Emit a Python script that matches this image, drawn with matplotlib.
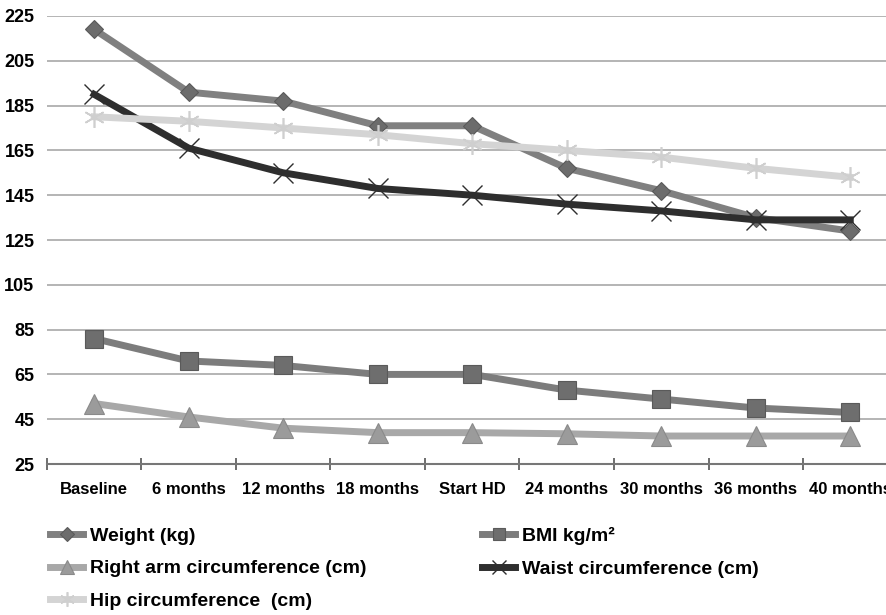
"""Anthropometric measures over follow-up, line chart with five series."""

import matplotlib
matplotlib.use("Agg")
import matplotlib.pyplot as plt
from matplotlib.ticker import FixedLocator

plt.rcParams["font.family"] = ["Liberation Sans", "DejaVu Sans"]
plt.rcParams["font.weight"] = "bold"

timepoints = ["Baseline", "6 months", "12 months", "18 months", "Start HD",
              "24 months", "30 months", "36 months", "40 months"]

weight = [219, 191, 187, 176, 176, 157, 147, 135, 129]
bmi = [81, 71, 69, 65, 65, 58, 54, 50, 48]
right_arm = [52, 46, 41, 39, 39, 38.5, 37.5, 37.5, 37.5]
waist = [190, 166, 155, 148, 145, 141, 138, 134, 134]
hip = [180, 178, 175, 172, 168, 165, 162, 157, 153]

fig = plt.figure(figsize=(8.86, 6.15), dpi=100)
ax = fig.add_axes([0.053, 0.2455, 0.96, 0.7285])

x = list(range(len(timepoints)))

# drawn in the same order as the source so later series sit on top
l_weight, = ax.plot(x, weight, color="#808080", lw=5, marker="D", ms=9.5,
                    mfc="#6c6c6c", mec="#5a5a5a", mew=0.8, label="Weight (kg)", zorder=3)
l_bmi, = ax.plot(x, bmi, color="#7c7c7c", lw=5, marker="s", ms=12.5,
                 mfc="#6e6e6e", mec="#5a5a5a", mew=0.8, label="BMI kg/m²", zorder=3)
l_arm, = ax.plot(x, right_arm, color="#a8a8a8", lw=5, marker="^", ms=14,
                 mfc="#9b9b9b", mec="#8a8a8a", mew=0.8,
                 label="Right arm circumference (cm)", zorder=3)
l_waist, = ax.plot(x, waist, color="#2e2e2e", lw=5, marker="x", ms=14,
                   mec="#2e2e2e", mew=1.0, label="Waist circumference (cm)", zorder=4)
l_hip, = ax.plot(x, hip, color="#d4d4d4", lw=5, marker=(6, 2, 0), ms=15,
                 mec="#cfcfcf", mew=1.2, label="Hip circumference  (cm)", zorder=5)

ax.set_xlim(-0.5, len(timepoints) - 0.5)
ax.set_ylim(25, 225)
ax.yaxis.set_major_locator(FixedLocator(list(range(25, 226, 20))))
ax.grid(True, axis="y", color="#a8a8a8", lw=1.2)
ax.set_axisbelow(True)

ax.set_xticks(x)
ax.set_xticklabels(timepoints, fontsize=12, fontweight="bold")
ax.set_xticks([i - 0.5 for i in range(len(timepoints) + 1)], minor=True)
ax.tick_params(axis="x", which="major", length=0, pad=13)
ax.tick_params(axis="x", which="minor", length=9, width=1.2, direction="inout", color="#555555")
ax.tick_params(axis="y", length=0, pad=9, labelsize=13)
for lbl in ax.get_yticklabels():
    lbl.set_fontweight("bold")

for side in ["top", "right", "left"]:
    ax.spines[side].set_visible(False)
ax.spines["bottom"].set_color("#777777")
ax.spines["bottom"].set_linewidth(1.5)

leg_kw = dict(frameon=False, handlelength=1.7, handletextpad=0.36,
              labelspacing=0.78, borderaxespad=0, borderpad=0,
              prop={"weight": "bold", "size": 14})
leg1 = fig.legend([l_weight, l_arm, l_hip],
                  [l_weight.get_label(), l_arm.get_label(), l_hip.get_label()],
                  loc="upper left", bbox_to_anchor=(50 / 886, 1 - 527 / 615), **leg_kw)
leg2 = fig.legend([l_bmi, l_waist],
                  [l_bmi.get_label(), l_waist.get_label()],
                  loc="upper left", bbox_to_anchor=(482 / 886, 1 - 527 / 615), **leg_kw)
for leg in (leg1, leg2):
    for h in leg.legend_handles:
        h.set_markersize(h.get_markersize() * 0.7)

fig.savefig("out.png", dpi=100)
